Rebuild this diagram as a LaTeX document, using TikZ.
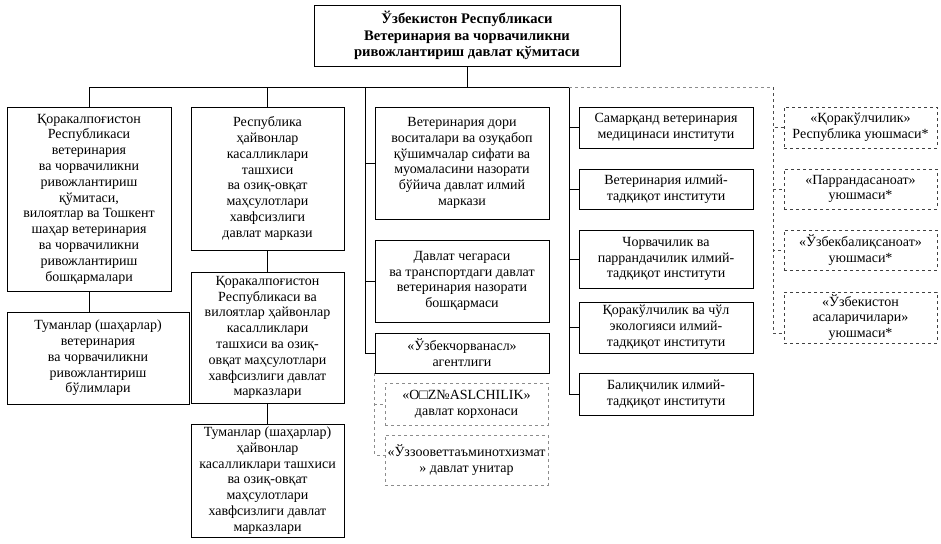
\documentclass[tikz,border=0pt]{standalone}
\usepackage{fontspec}
\setmainfont{Liberation Serif}
\usetikzlibrary{positioning}

\begin{document}
\begin{tikzpicture}[
    x=1pt,y=-1pt,
    font=\fontsize{14}{15.8}\selectfont,
    box/.style={draw,line width=0.9pt,align=center,inner xsep=0pt,inner ysep=1pt},
    dbox/.style={box,dashed,draw=black!75},
    gbox/.style={box,dashed,draw=black!45},
    link/.style={line width=0.9pt},
    glink/.style={line width=0.9pt,dashed,draw=black!45},
    dlink/.style={line width=0.9pt,dashed,draw=black!70}
  ]
  \useasboundingbox (0,0) rectangle (941,543);

  \node[box,minimum width=306,minimum height=61,
        font=\fontsize{14.6}{16.7}\selectfont\bfseries] (komita) at (467,35.5)
       {Ўзбекистон Республикаси\\Ветеринария ва чорвачиликни\\ривожлантириш давлат қўмитаси};

  % first column
  \node[box,minimum width=164,minimum height=184] (qqr) at (89,199)
       {Қоракалпоғистон\\Республикаси\\ветеринария\\ва чорвачиликни\\ривожлантириш\\қўмитаси,\\вилоятлар ва Тошкент\\шаҳар ветеринария\\ва чорвачиликни\\ривожлантириш\\бошқармалари};
  \node[box,minimum width=182,minimum height=92] (tuman) at (98,358)
       {Туманлар (шаҳарлар)\\ветеринария\\ва чорвачиликни\\ривожлантириш\\бўлимлари};

  % second column
  \node[box,minimum width=153,minimum height=143] (respdiag) at (267.5,178.5)
       {Республика\\ҳайвонлар\\касалликлари\\ташхиси\\ва озиқ-овқат\\маҳсулотлари\\хавфсизлиги\\давлат маркази};
  \node[box,minimum width=153,minimum height=131] (viloyatdiag) at (267.5,337.5)
       {Қоракалпоғистон\\Республикаси ва\\вилоятлар ҳайвонлар\\касалликлари\\ташхиси ва озиқ-\\овқат маҳсулотлари\\хавфсизлиги давлат\\марказлари};
  \node[box,minimum width=153,minimum height=113] (tumandiag) at (267.5,480.5)
       {Туманлар (шаҳарлар)\\ҳайвонлар\\касалликлари ташхиси\\ва озиқ-овқат\\маҳсулотлари\\хавфсизлиги давлат\\марказлари};

  % third column
  \node[box,minimum width=174,minimum height=112] (dori) at (462,163)
       {Ветеринария дори\\воситалари ва озуқабоп\\қўшимчалар сифати ва\\муомаласини назорати\\бўйича давлат илмий\\маркази};
  \node[box,minimum width=174,minimum height=82] (chegara) at (462,281)
       {Давлат чегараси\\ва транспортдаги давлат\\ветеринария назорати\\бошқармаси};
  \node[box,minimum width=174,minimum height=40] (chorvanasl) at (462,353)
       {«Ўзбекчорванасл»\\агентлиги};
  \node[gbox,minimum width=163,minimum height=42] (naslchilik) at (466.5,404)
       {«O□Z№ASLCHILIK»\\давлат корхонаси};
  \node[gbox,minimum width=163,minimum height=50] (zooxizmat) at (466.5,460)
       {«Ўззооветтаъминотхизмат\\» давлат унитар};

  % fourth column
  \node[box,minimum width=174,minimum height=41] (samarqand) at (666,127.5)
       {Самарқанд ветеринария\\медицинаси институти};
  \node[box,minimum width=174,minimum height=40] (vetilm) at (666,189)
       {Ветеринария илмий-\\тадқиқот институти};
  \node[box,minimum width=174,minimum height=58] (chorvailm) at (666,259)
       {Чорвачилик ва\\паррандачилик илмий-\\тадқиқот институти};
  \node[box,minimum width=174,minimum height=51] (qorakul) at (666,327.5)
       {Қоракўлчилик ва чўл\\экологияси илмий-\\тадқиқот институти};
  \node[box,minimum width=174,minimum height=42] (baliq) at (666,394)
       {Балиқчилик илмий-\\тадқиқот институти};

  % associations
  \node[dbox,minimum width=153,minimum height=41] (uqorakul) at (860.5,127.5)
       {«Қоракўлчилик»\\Республика уюшмаси*};
  \node[dbox,minimum width=153,minimum height=40] (uparranda) at (860.5,189)
       {«Паррандасаноат»\\уюшмаси*};
  \node[dbox,minimum width=153,minimum height=40] (ubaliq) at (860.5,250)
       {«Ўзбекбалиқсаноат»\\уюшмаси*};
  \node[dbox,minimum width=153,minimum height=51] (uasal) at (860.5,317.5)
       {«Ўзбекистон\\асаларичилари»\\уюшмаси*};

  \coordinate (bus)   at (467,87);
  \coordinate (col3)  at (365,87);
  \coordinate (col4)  at (569,87);
  \coordinate (col5)  at (773,87);

  \draw[link] (komita.south) -- (bus);
  \draw[link] (qqr.north) |- (col4);
  \draw[link] (respdiag.north) -- (respdiag.north |- bus);
  \draw[link] (qqr.south) -- (qqr.south |- tuman.north);
  \draw[link] (respdiag.south) -- (viloyatdiag.north);
  \draw[link] (viloyatdiag.south) -- (tumandiag.north);

  \foreach \n in {dori,chegara,chorvanasl}
    \draw[link] (col3) |- (\n.west);
  \foreach \n in {samarqand,vetilm,chorvailm,qorakul,baliq}
    \draw[link] (col4) |- (\n.west);

  \draw[glink] (chorvanasl.south west) |- (naslchilik.west);
  \draw[glink] (chorvanasl.south west) |- ([yshift=5]zooxizmat.west);
  \draw[glink] (col4) -- (col5);
  \foreach \n in {uqorakul,uparranda,ubaliq}
    \draw[dlink] (col5) |- (\n.west);
  \draw[dlink] (col5) |- ([yshift=-16]uasal.west);
\end{tikzpicture}
\end{document}
